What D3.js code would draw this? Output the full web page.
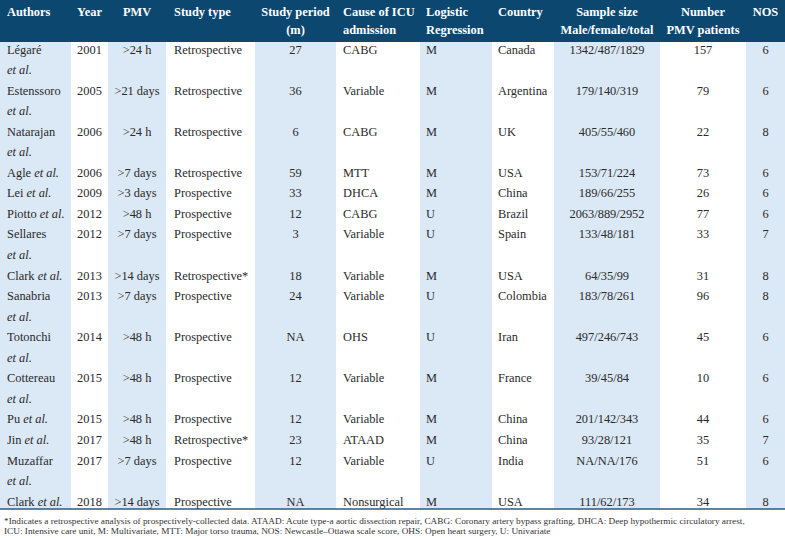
<!DOCTYPE html>
<html><head><meta charset="utf-8">
<script src="https://cdn.jsdelivr.net/npm/d3@7"></script>
<style>html,body{margin:0;padding:0;background:#fff;}svg{display:block;}
svg text{font-family:"Liberation Serif","Tinos","DejaVu Serif",serif;}</style>
</head><body>
<script>
const authors = ["Légaré","Estenssoro","Natarajan","Agle","Lei","Piotto","Sellares","Clark","Sanabria","Totonchi","Cottereau","Pu","Jin","Muzaffar","Clark"];
const years = ["2001","2005","2006","2006","2009","2012","2012","2013","2013","2014","2015","2015","2017","2017","2018"];
const pmv = [">24 h",">21 days",">24 h",">7 days",">3 days",">48 h",">7 days",">14 days",">7 days",">48 h",">48 h",">48 h",">48 h",">7 days",">14 days"];
const studyType = ["Retrospective","Retrospective","Retrospective","Retrospective","Prospective","Prospective","Prospective","Retrospective*","Prospective","Prospective","Prospective","Prospective","Retrospective*","Prospective","Prospective"];
const studyPeriod = ["27","36","6","59","33","12","3","18","24","NA","12","12","23","12","NA"];
const cause = ["CABG","Variable","CABG","MTT","DHCA","CABG","Variable","Variable","Variable","OHS","Variable","Variable","ATAAD","Variable","Nonsurgical"];
const logistic = ["M","M","M","M","M","U","U","M","U","U","M","M","M","U","M"];
const country = ["Canada","Argentina","UK","USA","China","Brazil","Spain","USA","Colombia","Iran","France","China","China","India","USA"];
const sampleSize = ["1342/487/1829","179/140/319","405/55/460","153/71/224","189/66/255","2063/889/2952","133/48/181","64/35/99","183/78/261","497/246/743","39/45/84","201/142/343","93/28/121","NA/NA/176","111/62/173"];
const pmvPatients = ["157","79","22","73","26","77","33","31","96","45","10","44","35","51","34"];
const nos = ["6","6","8","6","6","6","7","8","8","6","6","6","7","6","8"];
const headers = [["Authors"],["Year"],["PMV"],["Study type"],["Study period","(m)"],["Cause of ICU","admission"],["Logistic","Regression"],["Country"],["Sample size","Male/female/total"],["Number","PMV patients"],["NOS"]];
const footnotes = [
  "*Indicates a retrospective analysis of prospectively-collected data. ATAAD: Acute type-a aortic dissection repair, CABG: Coronary artery bypass grafting, DHCA: Deep hypothermic circulatory arrest,",
  "ICU: Intensive care unit, M: Multivariate, MTT: Major torso trauma, NOS: Newcastle\u2013Ottawa scale score, OHS: Open heart surgery, U: Univariate"
];

const W = 785, H = 538;
const FS = 12.4;
const edges = [0,71,108,166,255,336,420,492,554,660,746,785];
const aligns = ["left","center","center","left","center","left","left","left","center","center","center"];
const padL = [7,0,0,8,0,7,6,6,0,0,0];
const headH = 42, ruleY = 509;
const HEAD = "#0c4770", SHADE = "#dbe8f5", TXT = "#2a2a2a";

const svg = d3.select("body").append("svg").attr("width", W).attr("height", H);

svg.selectAll("rect.shade").data(d3.range(0, 11, 2)).join("rect")
  .attr("class","shade")
  .attr("x", i => edges[i]).attr("width", i => edges[i+1]-edges[i])
  .attr("y", headH).attr("height", ruleY - headH).attr("fill", SHADE);

svg.append("rect").attr("x",0).attr("y",0).attr("width",W).attr("height",headH).attr("fill",HEAD);
function colX(c){ return aligns[c]==="center" ? (edges[c]+edges[c+1])/2 : edges[c]+padL[c]; }
function anchor(c){ return aligns[c]==="center" ? "middle" : "start"; }
const headG = svg.append("g").attr("font-weight","bold").attr("font-size",FS).attr("fill","#fff");
headers.forEach((lines, c) => {
  lines.forEach((t, k) => {
    headG.append("text").attr("x", colX(c)).attr("y", 16 + k*18.2)
      .attr("text-anchor", anchor(c)).text(t);
  });
});

const meas = svg.append("text").attr("font-size",FS).attr("x",-1000).attr("y",-1000);
function widthOf(name){
  meas.selectAll("*").remove();
  meas.append("tspan").text(name + " ");
  meas.append("tspan").attr("font-style","italic").text("et al.");
  return meas.node().getComputedTextLength();
}
const nLines = authors.map(a => widthOf(a) > 60 ? 2 : 1);
meas.remove();
const startLine = [];
let acc = 0;
nLines.forEach(n => { startLine.push(acc); acc += n; });

const y = d3.scaleLinear().domain([0, 22]).range([53.5, 505.6]);

const body = svg.append("g").attr("font-size", FS).attr("fill", TXT);
const cols = [null, years, pmv, studyType, studyPeriod, cause, logistic, country, sampleSize, pmvPatients, nos];

authors.forEach((a, r) => {
  const y0 = y(startLine[r]);
  if (nLines[r] === 1) {
    const t = body.append("text").attr("x", colX(0)).attr("y", y0);
    t.append("tspan").text(a + " ");
    t.append("tspan").attr("font-style","italic").text("et al.");
  } else {
    body.append("text").attr("x", colX(0)).attr("y", y0).text(a);
    body.append("text").attr("x", colX(0)).attr("y", y(startLine[r]+1)).attr("font-style","italic").text("et al.");
  }
  for (let c = 1; c < cols.length; c++) {
    body.append("text").attr("x", colX(c)).attr("y", y0).attr("text-anchor", anchor(c)).text(cols[c][r]);
  }
});

svg.append("line").attr("x1",0).attr("x2",W).attr("y1",ruleY).attr("y2",ruleY)
  .attr("stroke","#2b5a82").attr("stroke-width",1.3);

svg.append("g").attr("font-size", 9.25).attr("fill", "#333")
  .selectAll("text").data(footnotes).join("text")
  .attr("x", 4).attr("y", (d,i) => 523.5 + i*10.2).text(d => d);
</script>
</body></html>
